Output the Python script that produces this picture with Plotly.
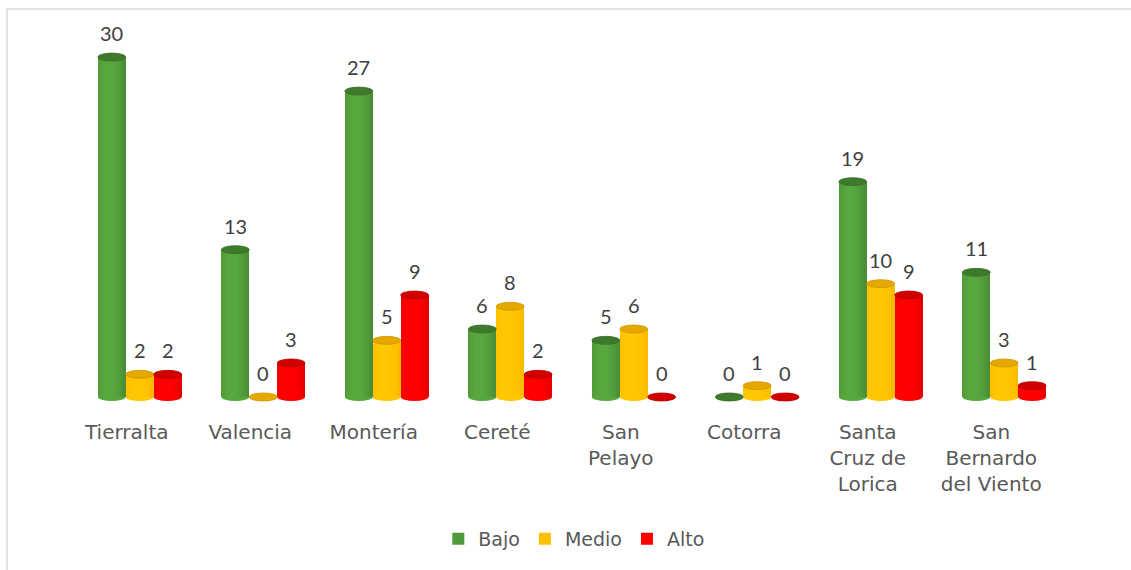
import math
import plotly.graph_objects as go

# Municipalities and counts per level
categories = ["Tierralta", "Valencia", "Montería", "Cereté", "San<br>Pelayo",
              "Cotorra", "Santa<br>Cruz de<br>Lorica", "San<br>Bernardo<br>del Viento"]
bajo = [30, 13, 27, 6, 5, 0, 19, 11]
medio = [2, 0, 5, 8, 6, 1, 10, 3]
alto = [2, 3, 9, 2, 0, 0, 9, 1]

series_names = ["Bajo", "Medio", "Alto"]
series_values = [bajo, medio, alto]

# Styling of each cylinder series: base colour, cap colour, shading depth
styles = [
    dict(base=(82, 156, 58), cap=(62, 122, 44), lo=0.70, hi=1.08, legend="#4f9a3a"),
    dict(base=(255, 192, 0), cap=(228, 168, 0), lo=0.83, hi=1.04, legend="#ffc000"),
    dict(base=(252, 0, 0), cap=(208, 0, 0), lo=0.74, hi=1.03, legend="#ff0000"),
]
BAR_W = 0.226                     # width of one cylinder in category units
OFFSETS = [-0.234, -0.008, 0.218]  # left edge of each cylinder relative to category
N_STRIPS = 14
CAP_H = 4.0                        # half-height of elliptical caps in pixels
PX_PER_UNIT = 11.33


def rgb(c):
    return "rgb(%d,%d,%d)" % tuple(max(0, min(255, round(v))) for v in c)


def shade(col, t, lo, hi):
    # light falls on the cylinder from the front-left
    mid = (lo + hi) / 2 + 0.05
    amp = hi - mid
    f = mid + amp * math.cos((t - 0.4) * math.pi)
    f = max(lo, min(hi, f))
    return rgb([v * f for v in col])


fig = go.Figure()
shapes = []
annotations = []

for s, (name, vals, st) in enumerate(zip(series_names, series_values, styles)):
    off = OFFSETS[s]
    # full-width body (also carries the legend entry)
    fig.add_trace(go.Bar(
        x=categories, y=vals, name=name, legendgroup=name,
        marker=dict(color=st["legend"], line=dict(width=0)),
        width=[BAR_W] * len(vals), offset=[off] * len(vals),
        hoverinfo="skip",
    ))
    # shaded vertical strips to give the cylinder look
    sw = BAR_W / N_STRIPS
    for i in range(N_STRIPS):
        t = (i + 0.5) / N_STRIPS
        w = sw * (1.6 if i < N_STRIPS - 1 else 1.0)
        fig.add_trace(go.Bar(
            x=categories, y=vals, legendgroup=name, showlegend=False,
            marker=dict(color=shade(st["base"], t, st["lo"], st["hi"]), line=dict(width=0)),
            width=[w] * len(vals), offset=[off + i * sw] * len(vals),
            hoverinfo="skip",
        ))
    for k, v in enumerate(vals):
        x0 = k + off
        x1 = k + off + BAR_W
        # rounded bottom
        shapes.append(dict(
            type="circle", xref="x", yref="y", x0=x0, x1=x1,
            ysizemode="pixel", yanchor=0, y0=-CAP_H, y1=CAP_H,
            fillcolor=shade(st["base"], 0.5, st["lo"], st["hi"]),
            line=dict(width=0), layer="below",
        ))
        # top cap
        shapes.append(dict(
            type="circle", xref="x", yref="y", x0=x0, x1=x1,
            ysizemode="pixel", yanchor=v, y0=-CAP_H, y1=CAP_H,
            fillcolor=rgb(st["cap"]),
            line=dict(width=0.8, color=rgb([c * 0.9 for c in st["cap"]])),
            layer="above",
        ))
        # value label
        annotations.append(dict(
            x=k + off + BAR_W / 2, y=v, xref="x", yref="y",
            text=str(v), showarrow=False, yshift=24,
            font=dict(family="Lato", size=20, color="#404040"),
        ))

# chart frame
shapes.append(dict(
    type="rect", xref="paper", yref="paper",
    x0=-0.0587, x1=1.2, y0=-1.0, y1=1.083,
    line=dict(color="#d9d9d9", width=1.5), fillcolor="rgba(0,0,0,0)",
    layer="below",
))

fig.update_layout(
    width=1131, height=570,
    margin=dict(l=65, r=78, t=40, b=158),
    paper_bgcolor="white", plot_bgcolor="white",
    barmode="overlay", bargap=0,
    shapes=shapes, annotations=annotations,
    showlegend=True,
    legend=dict(
        orientation="h", xref="paper", yref="paper",
        x=0.515, y=-0.341, xanchor="center", yanchor="middle",
        font=dict(family="DejaVu Sans", size=19, color="#595959"),
        itemwidth=30, traceorder="normal",
    ),
    xaxis=dict(
        type="category", range=[-0.5, 7.5],
        showgrid=False, zeroline=False, showline=False,
        ticks="outside", ticklen=2, tickcolor="rgba(0,0,0,0)",
        tickfont=dict(family="DejaVu Sans", size=20, color="#595959"),
    ),
    yaxis=dict(
        range=[-15 / PX_PER_UNIT, 357 / PX_PER_UNIT],
        showgrid=False, zeroline=False, showline=False,
        showticklabels=False, ticks="",
    ),
)

fig.write_html("out.html")
